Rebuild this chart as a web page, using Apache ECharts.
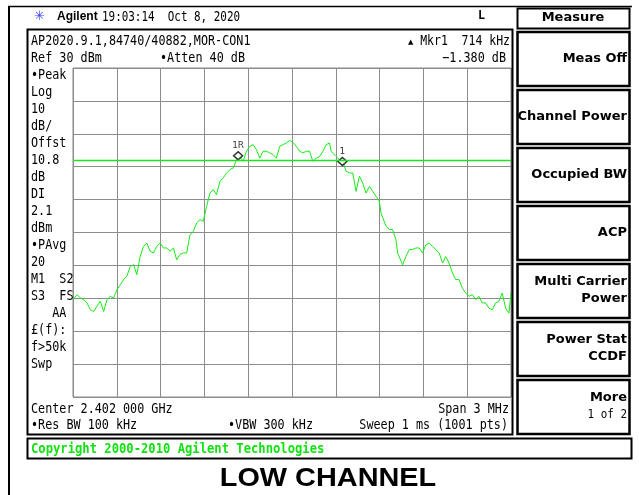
<!DOCTYPE html>
<html lang="en">
<head>
<meta charset="UTF-8">
<title>LOW CHANNEL</title>
<script src="https://cdn.jsdelivr.net/npm/echarts@6/dist/echarts.min.js"></script>
<style>
  html, body { margin: 0; padding: 0; background: #fff; }
  #main { width: 639px; height: 495px; }
</style>
</head>
<body>
<div id="main"></div>
<script>
// trace: offset from center 2.402 GHz (kHz) and level (dBm)
var freqs = [-1500, -1472, -1449, -1427, -1404, -1381, -1358, -1336, -1313, -1290, -1267, -1245, -1222, -1199, -1176,
  -1154, -1131, -1108, -1085, -1063, -1040, -1017, -994, -972, -949, -926, -903, -881, -858, -835, -812, -790, -767,
  -744, -721, -699, -676, -653, -630, -608, -585, -562, -539, -517, -494, -471, -448, -426, -403, -380, -357, -335,
  -312, -289, -266, -244, -221, -198, -175, -152, -130, -107,
  -84, -62, -39, -16, 7, 29, 52, 75, 98, 120, 143, 166, 189, 212, 234, 257, 268, 280, 302, 325, 348, 371, 394, 416,
  439, 462, 485, 507, 530, 553, 576, 598, 610, 621, 644, 667, 689, 712, 723, 735, 758, 780, 803, 826, 849, 871, 894,
  917, 940, 962, 985, 1008, 1031, 1053, 1076, 1099, 1121, 1144, 1167, 1190, 1213, 1235, 1258, 1281, 1303, 1326, 1349,
  1372, 1395, 1417, 1440, 1463, 1486, 1500];
var levels = [-40.4, -38.9, -39.9, -40.4, -41.4, -43.5, -44.0, -42.4, -40.9, -44.0, -40.4, -39.4, -39.9, -37.4, -35.9,
  -34.3, -33.3, -30.3, -29.8, -32.8, -27.3, -24.2, -23.2, -25.7, -26.2, -24.2, -23.2, -24.7, -24.7, -25.7, -24.7, -28.3,
  -26.7, -26.2, -26.2, -20.7, -19.7, -17.1, -16.1, -16.6, -12.1, -8.0, -7.0, -8.5, -4.5, -3.4, -1.9, -0.9, -0.4, 2.1,
  3.1, 1.6, 4.7, 6.2, 6.7, 5.2, 2.6, 4.7, 4.7, 4.2, 3.7, 2.6,
  6.2, 6.7, 7.2, 8.0, 7.4, 6.2, 4.7, 4.2, 4.7, 4.7, 1.6, 2.6, 3.1, 4.7, 6.7, 7.2, 4.7, 4.2, 3.1, 2.1, 1.6, -1.4, -1.9,
  -1.9, -7.5, -2.9, -5.0, -8.0, -6.0, -7.5, -9.0, -10.5, -14.1, -14.6, -18.1, -19.1, -19.1, -22.2, -26.2, -26.7, -29.8,
  -27.3, -25.2, -25.2, -24.7, -24.7, -26.2, -23.7, -23.2, -24.2, -25.2, -26.2, -29.3, -27.3, -29.3, -32.3, -34.3, -34.3,
  -36.9, -38.4, -39.4, -38.9, -40.4, -39.4, -41.4, -41.4, -43.0, -43.5, -41.4, -40.9, -38.4, -43.0, -44.5, -38.4];

var markerNames = ['1R', '1'];
var markerFreqs = [-369, 345];
var markerLevels = [3.3, 1.6];
var displayLine = 2.1;

var leftLabels = ['\u2022Peak', 'Log', '10', 'dB/', 'Offst', '10.8', 'dB', 'DI', '2.1', 'dBm', '\u2022PAvg', '20',
  'M1  S2', 'S3  FS', '   AA', '\u00a3(f):', 'f>50k', 'Swp'];
var softkeys = [['Meas Off'], ['Channel Power'], ['Occupied BW'], ['ACP'], ['Multi Carrier', 'Power'],
  ['Power Stat', 'CCDF'], ['More', '1 of 2']];

var MONO = '14px "DejaVu Sans Mono"';

function txt(x, y, s, o) {
  o = o || {};
  return {
    type: 'text', x: x, y: y, z: 10, silent: true,
    scaleX: o.sx == null ? 0.84 : o.sx,
    style: {
      text: s, font: o.font || MONO, fill: o.fill || '#000',
      textAlign: o.align || 'left', textVerticalAlign: 'middle'
    }
  };
}
function box(x, y, w, h, lw) {
  return { type: 'rect', z: 5, silent: true, shape: { x: x, y: y, width: w, height: h },
    style: { fill: 'none', stroke: '#000', lineWidth: lw || 2 } };
}

var trace = [];
for (var i = 0; i < freqs.length; i++) trace.push([freqs[i], levels[i]]);
var markers = [];
for (var i = 0; i < markerFreqs.length; i++) markers.push({ name: markerNames[i], value: [markerFreqs[i], markerLevels[i]] });

var g = [];
// frame
g.push({ type: 'line', z: 5, silent: true, shape: { x1: 9, y1: 6, x2: 9, y2: 495 }, style: { stroke: '#000', lineWidth: 2 } });
g.push({ type: 'line', z: 5, silent: true, shape: { x1: 8, y1: 6.5, x2: 632, y2: 6.5 }, style: { stroke: '#000', lineWidth: 1.5 } });
g.push(box(27.5, 29.5, 485, 405, 2));
g.push(box(517.5, 8.5, 112, 20, 2));
g.push(box(27.5, 438.5, 604, 20, 2));

// header
g.push(txt(34, 17, '\u2733', { font: '13px "DejaVu Sans"', fill: '#3b3bff', sx: 1 }));
g.push(txt(57, 17, 'Agilent', { font: 'bold 12px "Liberation Sans"', sx: 1 }));
g.push(txt(102, 17, '19:03:14  Oct 8, 2020', { font: '14px "DejaVu Sans Mono"', sx: 0.78 }));
g.push(txt(478, 16, 'L', { font: 'bold 13px "DejaVu Sans Mono"', sx: 0.9 }));
g.push(txt(573, 18, 'Measure', { font: 'bold 13px "DejaVu Sans"', align: 'center', sx: 1 }));

// settings text
g.push(txt(31, 41, 'AP2020.9.1,84740/40882,MOR-CON1'));
g.push(txt(31, 58, 'Ref 30 dBm'));
g.push(txt(160, 58, '\u2022Atten 40 dB'));
g.push(txt(408, 42, '\u25b2', { font: '7px "DejaVu Sans"', sx: 1 }));
g.push(txt(510, 41, 'Mkr1  714 kHz', { align: 'right', sx: 0.82 }));
g.push(txt(506, 58, '\u22121.380 dB', { align: 'right' }));
for (var i = 0; i < leftLabels.length; i++) g.push(txt(31, 75 + i * 17.05, leftLabels[i]));
g.push(txt(31, 409, 'Center 2.402 000 GHz'));
g.push(txt(509, 409, 'Span 3 MHz', { align: 'right' }));
g.push(txt(31, 425, '\u2022Res BW 100 kHz'));
g.push(txt(228, 425, '\u2022VBW 300 kHz'));
g.push(txt(508, 425, 'Sweep 1 ms (1001 pts)', { align: 'right' }));
g.push(txt(31, 449, 'Copyright 2000-2010 Agilent Technologies', { font: 'bold 14px "DejaVu Sans Mono"', fill: '#12e212', sx: 0.87 }));
g.push(txt(328, 479, 'LOW CHANNEL', { font: 'bold 26px "Liberation Sans"', align: 'center', sx: 1.11 }));

// softkeys
for (var i = 0; i < softkeys.length; i++) {
  var keyTop = 32 + i * 58;
  g.push(box(517.5, keyTop, 112, 54, 2.5));
  var k = softkeys[i];
  if (k.length === 1) {
    g.push(txt(627, keyTop + 27, k[0], { font: 'bold 13px "DejaVu Sans"', align: 'right', sx: 1 }));
  } else {
    g.push(txt(627, keyTop + 18, k[0], { font: 'bold 13px "DejaVu Sans"', align: 'right', sx: 1 }));
    var second = k[1] === '1 of 2'
      ? txt(627, keyTop + 35, k[1], { font: '13px "DejaVu Sans Mono"', align: 'right' })
      : txt(627, keyTop + 35, k[1], { font: 'bold 13px "DejaVu Sans"', align: 'right', sx: 1 });
    g.push(second);
  }
}

var chart = echarts.init(document.getElementById('main'));
chart.setOption({
  animation: false,
  backgroundColor: '#fff',
  grid: { left: 73, top: 68, width: 438, height: 329, show: true, borderColor: '#8a8a8a', borderWidth: 1 },
  xAxis: {
    type: 'value', min: -1500, max: 1500, interval: 300,
    axisLine: { show: false }, axisTick: { show: false }, axisLabel: { show: false },
    splitLine: { lineStyle: { color: '#8c8c8c', width: 1 } }
  },
  yAxis: {
    type: 'value', min: -70, max: 30, interval: 10,
    axisLine: { show: false }, axisTick: { show: false }, axisLabel: { show: false },
    splitLine: { lineStyle: { color: '#8c8c8c', width: 1 } }
  },
  series: [
    {
      type: 'line', data: trace, showSymbol: false, silent: true,
      lineStyle: { color: '#14ec14', width: 1 },
      markLine: {
        silent: true, symbol: ['none', 'none'], label: { show: false },
        lineStyle: { color: '#1ee61e', width: 1.3, type: 'solid' },
        data: [{ yAxis: displayLine }]
      }
    },
    {
      type: 'scatter', data: markers, symbol: 'diamond', symbolSize: [9, 8], z: 4,
      itemStyle: { color: '#fff', borderColor: '#000', borderWidth: 1.5 },
      label: {
        show: true, position: 'top', distance: 1, formatter: '{b}',
        fontSize: 9, fontFamily: 'DejaVu Sans', color: '#000'
      }
    }
  ],
  graphic: g
});
</script>
</body>
</html>
